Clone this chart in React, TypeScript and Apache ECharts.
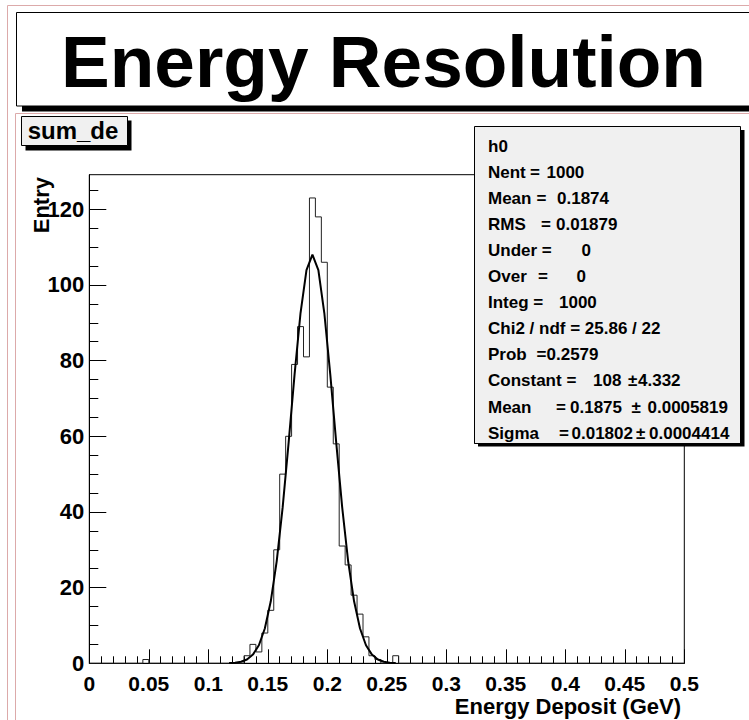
import React, { useEffect, useRef } from "react";
import * as echarts from "echarts";

const FONT = '"Liberation Sans", Arial, Helvetica, sans-serif';

// Histogram "sum_de": 100 bins from 0 to 0.5 GeV
const X_MIN = 0;
const X_MAX = 0.5;
const BIN_W = 0.005;
const counts = [
  0, 0, 0, 0, 0, 0, 0, 0, 0, 1,
  0, 0, 0, 0, 0, 0, 0, 0, 0, 0,
  0, 0, 0, 0, 0, 0, 2, 5, 3, 8,
  14, 30, 50, 60, 79, 89, 81, 123, 118, 106,
  73, 58, 31, 26, 18, 13, 7, 2, 1, 0,
  0, 2, 0, 0, 0, 0, 0, 0, 0, 0,
  0, 0, 0, 0, 0, 0, 0, 0, 0, 0,
  0, 0, 0, 0, 0, 0, 0, 0, 0, 0,
  0, 0, 0, 0, 0, 0, 0, 0, 0, 0,
  0, 0, 0, 0, 0, 0, 0, 0, 0, 0,
];

// Gaussian fit curve, read at bin centres
const fitX = [
  0.1175, 0.1225, 0.1275, 0.1325, 0.1375, 0.1425, 0.1475, 0.1525, 0.1575, 0.1625,
  0.1675, 0.1725, 0.1775, 0.1825, 0.1875, 0.1925, 0.1975, 0.2025, 0.2075, 0.2125,
  0.2175, 0.2225, 0.2275, 0.2325, 0.2375, 0.2425, 0.2475, 0.2525, 0.2575,
];
const fitY = [
  0.06, 0.16, 0.42, 1.02, 2.3, 4.78, 9.19, 16.38, 27.01, 41.26,
  58.34, 76.38, 92.59, 103.92, 108, 103.92, 92.59, 76.38, 58.34, 41.26,
  27.01, 16.38, 9.19, 4.78, 2.3, 1.02, 0.42, 0.16, 0.06,
];

const Y_MAX = 129.15;
const yMajorTicks = [0, 20, 40, 60, 80, 100, 120];
const yMinorTicks = [5, 10, 15, 25, 30, 35, 45, 50, 55, 65, 70, 75, 85, 90, 95, 105, 110, 115, 125];

const titleText = "Energy Resolution";
const histName = "sum_de";
const xTitle = "Energy Deposit (GeV)";
const yTitle = "Entry";

// stats box lines: segments [text, x]
const statsLines: Array<Array<[string, number]>> = [
  [["h0", 488]],
  [["Nent", 488], ["=", 530], ["1000", 546.5]],
  [["Mean", 488], ["=", 536.5], ["0.1874", 557]],
  [["RMS", 488], ["=", 541], ["0.01879", 556]],
  [["Under =", 488], ["0", 581.5]],
  [["Over", 488], ["=", 538], ["0", 576.5]],
  [["Integ =", 488], ["1000", 559]],
  [["Chi2 / ndf = 25.86 / 22", 488]],
  [["Prob", 488], ["=", 536.5], ["0.2579", 546.5]],
  [["Constant =", 488], ["108", 593], ["\u00b1", 628], ["4.332", 638]],
  [["Mean", 488], ["=", 556], ["0.1875", 570], ["\u00b1", 631.5], ["0.0005819", 647.5]],
  [["Sigma", 488], ["=", 559], ["0.01802", 571.5], ["\u00b1", 636], ["0.0004414", 649]],
];

const PINK = "#dcaaaa";

export default function App() {
  const ref = useRef<HTMLDivElement>(null);
  useEffect(() => {
    document.body.style.margin = "0";
    const chart = echarts.init(ref.current!, undefined, { renderer: "svg", width: 749, height: 720 });

    const histData: number[][] = [];
    counts.forEach((c, i) => {
      histData.push([X_MIN + i * BIN_W, c], [X_MIN + (i + 1) * BIN_W, c]);
    });
    const fitData = fitX.map((x, i) => [x, fitY[i]]);

    const graphics: any[] = [];
    // canvas and pad borders
    graphics.push({ type: "rect", z: 100, shape: { x: 7.5, y: 5.5, width: 900, height: 900 }, style: { fill: "none", stroke: PINK, lineWidth: 1 } });
    graphics.push({ type: "rect", z: 100, shape: { x: 15.5, y: 113.5, width: 900, height: 900 }, style: { fill: "none", stroke: PINK, lineWidth: 1 } });
    // title box
    graphics.push({ type: "rect", z: 101, shape: { x: 22, y: 106, width: 900, height: 5.5 }, style: { fill: "#000" } });
    graphics.push({ type: "rect", z: 102, shape: { x: 16.5, y: 12.5, width: 900, height: 93.5 }, style: { fill: "#fff", stroke: "#000", lineWidth: 1 } });
    graphics.push({
      type: "text", z: 103, x: 383.5, y: 61.5,
      style: { text: titleText, fill: "#000", font: `bold 73px ${FONT}`, align: "center", verticalAlign: "middle" },
    });
    // sum_de box
    graphics.push({ type: "rect", z: 101, shape: { x: 25.5, y: 120.5, width: 106, height: 30 }, style: { fill: "#000" } });
    graphics.push({ type: "rect", z: 102, shape: { x: 21.5, y: 116.5, width: 106, height: 29 }, style: { fill: "#f0f0f0", stroke: "#000", lineWidth: 1 } });
    graphics.push({
      type: "text", z: 103, x: 73, y: 130,
      style: { text: histName, fill: "#000", font: `bold 24px ${FONT}`, align: "center", verticalAlign: "middle" },
    });
    // stats box
    graphics.push({ type: "rect", z: 101, shape: { x: 478, y: 130, width: 266.5, height: 316.5 }, style: { fill: "#000" } });
    graphics.push({ type: "rect", z: 102, shape: { x: 474.5, y: 126.5, width: 266, height: 317 }, style: { fill: "#f0f0f0", stroke: "#000", lineWidth: 1 } });
    statsLines.forEach((segs, k) => {
      const y = 146 + 26.1 * k;
      segs.forEach(([t, x]) => {
        graphics.push({
          type: "text", z: 103, x, y,
          style: { text: t, fill: "#000", font: `bold 17px ${FONT}`, align: "left", verticalAlign: "middle", lineHeight: 18 },
        });
      });
    });
    graphics.push({ type: "line", z: 104, shape: { x1: 474.5, y1: 443.5, x2: 740.5, y2: 443.5 }, style: { stroke: "#000", lineWidth: 1 } });
    // axis titles
    graphics.push({
      type: "text", z: 103, x: 681, y: 706.5,
      style: { text: xTitle, fill: "#000", font: `bold 22px ${FONT}`, align: "right", verticalAlign: "middle", lineHeight: 17 },
    });
    graphics.push({
      type: "text", z: 103, x: 41, y: 177, rotation: Math.PI / 2,
      style: { text: yTitle, fill: "#000", font: `bold 22px ${FONT}`, align: "right", verticalAlign: "middle", lineHeight: 18 },
    });

    const labelStyle = { color: "#000", fontFamily: FONT, fontWeight: "bold" as const, fontSize: 21 };

    chart.setOption({
      animation: false,
      backgroundColor: "#fff",
      grid: {
        left: 89.3, right: 749 - 684.3, top: 174.7, bottom: 720 - 663.3,
        show: true, borderColor: "#000", borderWidth: 1, backgroundColor: "transparent",
      },
      xAxis: {
        type: "value", min: X_MIN, max: X_MAX, interval: 0.05,
        axisLine: { show: true, onZero: false, lineStyle: { color: "#000", width: 1 } },
        axisTick: { show: true, inside: true, length: 14, lineStyle: { color: "#000", width: 1 } },
        minorTick: { show: true, splitNumber: 5, length: 7, lineStyle: { color: "#000", width: 1 } },
        splitLine: { show: false },
        minorSplitLine: { show: false },
        axisLabel: { ...labelStyle, lineHeight: 16, margin: 12.5, formatter: (v: number) => String(+v.toFixed(2)) },
      },
      yAxis: [
        {
          type: "value", min: 0, max: Y_MAX,
          axisLine: { show: true, lineStyle: { color: "#000", width: 1 } },
          axisTick: { show: true, inside: true, length: 17, customValues: yMajorTicks, lineStyle: { color: "#000", width: 1 } },
          splitLine: { show: false },
          axisLabel: { ...labelStyle, fontSize: 22, margin: 5, padding: [5, 0, 0, 0], customValues: yMajorTicks, formatter: (v: number) => String(v) },
        },
        {
          type: "value", min: 0, max: Y_MAX, position: "left",
          axisLine: { show: false },
          axisTick: { show: true, inside: true, length: 9, customValues: yMinorTicks, lineStyle: { color: "#000", width: 1 } },
          splitLine: { show: false },
          axisLabel: { show: false },
        },
      ],
      series: [
        {
          type: "line", name: "sum_de", data: histData, xAxisIndex: 0, yAxisIndex: 0,
          showSymbol: false, symbol: "none", silent: true,
          lineStyle: { color: "#222", width: 1 },
        },
        {
          type: "line", name: "fit", data: fitData, xAxisIndex: 0, yAxisIndex: 0,
          showSymbol: false, symbol: "none", silent: true, smooth: false,
          lineStyle: { color: "#000", width: 2 }, z: 3,
        },
      ],
      graphic: graphics,
    });
    return () => chart.dispose();
  }, []);
  return (
    <div
      ref={ref}
      style={{ position: "absolute", left: 0, top: 0, width: 749, height: 720, background: "#fff" }}
    />
  );
}
